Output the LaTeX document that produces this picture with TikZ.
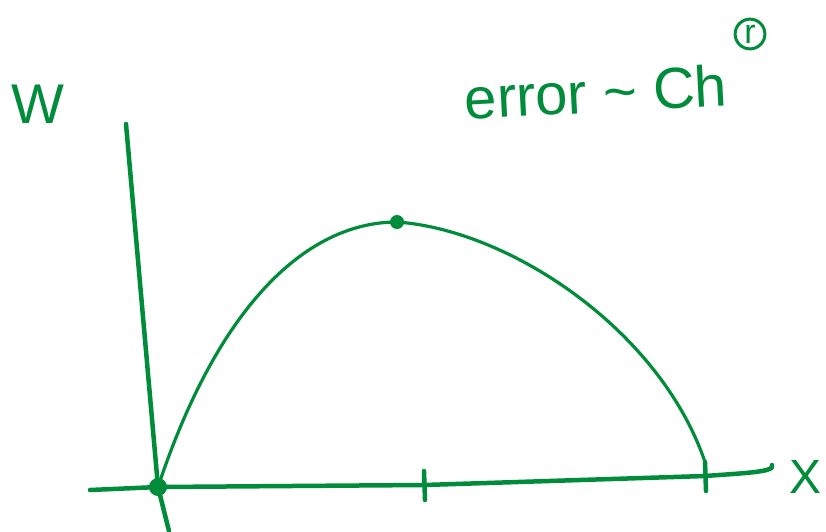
\documentclass[tikz,border=0pt]{standalone}
\usepackage{fontspec}
\setmainfont{Liberation Sans}
\usetikzlibrary{arrows.meta}
\definecolor{pen}{RGB}{0,140,58}

\begin{document}
\begin{tikzpicture}[x=1pt,y=-1pt,line cap=round,line join=round,
  axis/.style={draw=pen,line width=4.5},
  graph/.style={draw=pen,line width=3.2},
  hand/.style={text=pen,inner sep=0pt}]
\useasboundingbox (0,0) rectangle (826,531);

\coordinate (wtop) at (126,124);
\coordinate (o) at (158,487);
\coordinate (wbot) at (169,531);
\coordinate (xleft) at (90,490);
\coordinate (t1) at (424,485);
\coordinate (t2) at (705,476);
\coordinate (xend) at (772,465);
\coordinate (top) at (397,222);
\coordinate (xr) at (705,462);

\draw[axis] (wtop) -- (o) -- (wbot);
\draw[axis] (xleft) -- (o) -- (t1) -- (t2) .. controls (745,473) and (776,472) .. (xend);
\foreach \t in {t1, t2}{
\draw[axis] ([yshift=14]\t) -- ([xshift=1,yshift=-15]\t);
}

\draw[graph] (o) .. controls (220,300) and (310,222) .. (top)
  .. controls (510,230) and (660,330) .. (xr);
\fill[pen] (o) circle (9);
\fill[pen] (top) circle (7);

\node[hand,font=\fontsize{56}{56}\selectfont] (w) at (38,104) {W};
\node[hand,font=\fontsize{48}{48}\selectfont] (xlab) at (805,477) {X};
\node[hand,font=\fontsize{58}{58}\selectfont,rotate=3] (err) at (596,92) {error \textasciitilde{} Ch};
\node[hand,draw=pen,circle,line width=3,inner sep=3pt,font=\fontsize{34}{34}\selectfont] (pow) at (750,34) {r};
\end{tikzpicture}
\end{document}
